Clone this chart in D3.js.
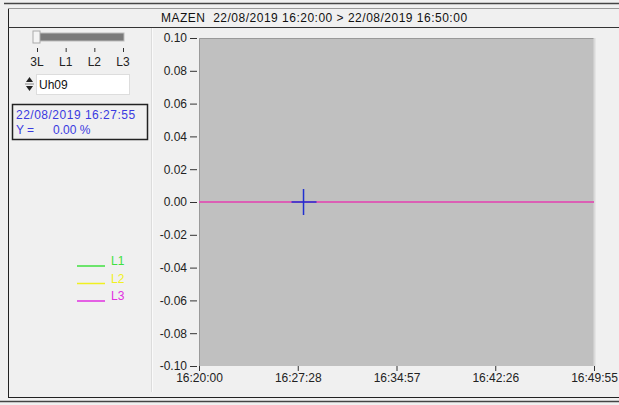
<!DOCTYPE html>
<html>
<head>
<meta charset="utf-8">
<script src="https://cdn.jsdelivr.net/npm/d3@7"></script>
<style>
body { margin: 0; background: #f0f0f0; }
svg { display: block; font-family: 'Liberation Sans', Arial, sans-serif; }
</style>
</head>
<body>
<script>
width = 619
height = 405

// data
var titleText = 'MAZEN  22/08/2019 16:20:00 > 22/08/2019 16:50:00'
var startTime = '2019-08-22T16:20:00'
var endTime = '2019-08-22T16:49:55'
var xTickTimes = ['2019-08-22T16:20:00', '2019-08-22T16:27:28.75', '2019-08-22T16:34:57.5', '2019-08-22T16:42:26.25', '2019-08-22T16:49:55']
var xTickLabels = ['16:20:00', '16:27:28', '16:34:57', '16:42:26', '16:49:55']
var yTicks = [-0.10, -0.08, -0.06, -0.04, -0.02, 0.00, 0.02, 0.04, 0.06, 0.08, 0.10]
var seriesNames = ['L1', 'L2', 'L3']
var seriesColors = ['#40e040', '#f0f020', '#e030e0']
var seriesTimes = ['2019-08-22T16:20:00', '2019-08-22T16:49:55']
var valuesL1 = [0, 0]
var valuesL2 = [0, 0]
var valuesL3 = [0, 0]
var sliderLabels = ['3L', 'L1', 'L2', 'L3']
var cursorTime = '2019-08-22T16:27:55'
var cursorValue = 0
var channelName = 'Uh09'

var parse = d3.isoParse

svg = d3.select('body')
    .append('svg')
    .attr('width', width)
    .attr('height', height)

// frame lines
svg.append('line').attr('x1', 4).attr('x2', width).attr('y1', 3.5).attr('y2', 3.5)
    .style('stroke', '#444').style('stroke-width', 1.5)
svg.append('line').attr('x1', 8.5).attr('x2', 8.5).attr('y1', 8).attr('y2', 397)
    .style('stroke', '#222')
svg.append('line').attr('x1', 8).attr('x2', width).attr('y1', 8.5).attr('y2', 8.5)
    .style('stroke', '#999')
svg.append('line').attr('x1', 8).attr('x2', width).attr('y1', 27.5).attr('y2', 27.5)
    .style('stroke', '#333')
svg.append('line').attr('x1', 8).attr('x2', width).attr('y1', 397.5).attr('y2', 397.5)
    .style('stroke', '#222')
svg.append('line').attr('x1', 0).attr('x2', width).attr('y1', 401.5).attr('y2', 401.5)
    .style('stroke', '#444').style('stroke-width', 1.5)
svg.append('line').attr('x1', 152.5).attr('x2', 152.5).attr('y1', 28).attr('y2', 392)
    .style('stroke', '#fafafa')
svg.append('line').attr('x1', 151.5).attr('x2', 151.5).attr('y1', 28).attr('y2', 392)
    .style('stroke', '#dcdcdc')

// title
svg.append('text')
    .text(titleText)
    .attr('x', 161)
    .attr('y', 22)
    .style('font-size', '12px')
    .style('letter-spacing', '0.5px')
    .style('fill', '#111')
    .style('white-space', 'pre')

// scales
var xScale = d3.scaleTime()
    .domain([parse(startTime), parse(endTime)])
    .range([199, 594])

var yScale = d3.scaleLinear()
    .domain([-0.10, 0.10])
    .range([366, 38])

// plot area
svg.append('rect')
    .attr('x', xScale.range()[0])
    .attr('y', yScale.range()[1])
    .attr('width', xScale.range()[1] - xScale.range()[0])
    .attr('height', yScale.range()[0] - yScale.range()[1])
    .style('fill', '#c0c0c0')
svg.append('path')
    .attr('d', 'M' + (xScale.range()[0] + 0.5) + ',' + yScale.range()[0] + 'V' + (yScale.range()[1] + 0.5) + 'H' + xScale.range()[1])
    .style('fill', 'none')
    .style('stroke', '#9a9a9a')
svg.append('line')
    .attr('x1', xScale.range()[1] + 0.5).attr('x2', xScale.range()[1] + 0.5)
    .attr('y1', yScale.range()[1]).attr('y2', yScale.range()[0])
    .style('stroke', '#dadada').style('stroke-width', 2)

// y axis
var yAxis = svg.append('g')
    .attr('transform', 'translate(197,0)')
    .call(d3.axisLeft(yScale).tickValues(yTicks).tickFormat(d3.format('.2f')).tickSize(7).tickPadding(3))
yAxis.select('.domain').remove()
yAxis.selectAll('line').style('stroke', '#333')
yAxis.selectAll('text').style('font-size', '12px').style('fill', '#222')
    .style('font-family', "'Liberation Sans', Arial, sans-serif")
    .text(d => d3.format('.2f')(d).replace('−', '-'))

// x axis
var xAxis = svg.append('g')
    .attr('transform', 'translate(0,' + yScale.range()[0] + ')')
    .call(d3.axisBottom(xScale).tickValues(xTickTimes.map(parse)).tickFormat((d, i) => xTickLabels[i]).tickSize(5).tickPadding(2))
xAxis.select('.domain').remove()
xAxis.selectAll('line').style('stroke', '#333')
xAxis.selectAll('text').style('font-size', '12px').style('fill', '#222')
    .style('font-family', "'Liberation Sans', Arial, sans-serif")

// series
var allValues = [valuesL1, valuesL2, valuesL3]
var line = d3.line()
    .x((d, i) => xScale(parse(seriesTimes[i])))
    .y(d => yScale(d))
allValues.forEach(function(vals, k) {
    svg.append('path')
        .datum(vals)
        .attr('d', line)
        .style('fill', 'none')
        .style('stroke', seriesColors[k])
        .style('stroke-width', 1.5)
})

// cursor cross
var cx = xScale(parse(cursorTime))
var cy = yScale(cursorValue)
svg.append('line').attr('x1', cx - 12).attr('x2', cx + 13).attr('y1', cy).attr('y2', cy)
    .style('stroke', '#2030d0').style('stroke-width', 1.5)
svg.append('line').attr('x1', cx).attr('x2', cx).attr('y1', cy - 13).attr('y2', cy + 13)
    .style('stroke', '#2030d0').style('stroke-width', 1.5)

// slider
var sliderScale = d3.scalePoint()
    .domain(sliderLabels)
    .range([37, 123])
svg.append('rect')
    .attr('x', 37).attr('y', 33).attr('width', 87).attr('height', 8)
    .style('fill', '#7a7a7a').style('stroke', '#bbb')
svg.append('rect')
    .attr('x', 33).attr('y', 31).attr('width', 7).attr('height', 12)
    .style('fill', '#f4f4f4').style('stroke', '#aaa')
sliderLabels.forEach(function(s) {
    svg.append('line')
        .attr('x1', sliderScale(s) + 0.5).attr('x2', sliderScale(s) + 0.5)
        .attr('y1', 48).attr('y2', 52)
        .style('stroke', '#333')
    svg.append('text')
        .text(s)
        .attr('x', sliderScale(s))
        .attr('y', 66)
        .attr('text-anchor', 'middle')
        .style('font-size', '12px')
        .style('fill', '#222')
})

// spin box
svg.append('rect')
    .attr('x', 36.5).attr('y', 74.5).attr('width', 93).attr('height', 20)
    .style('fill', '#fff').style('stroke', '#ddd')
svg.append('path').attr('d', 'M26,82 L29.5,77 L33,82 Z').style('fill', '#222')
svg.append('path').attr('d', 'M26,86 L29.5,91 L33,86 Z').style('fill', '#222')
svg.append('line').attr('x1', 25).attr('x2', 34).attr('y1', 84).attr('y2', 84).style('stroke', '#888')
svg.append('text')
    .text(channelName)
    .attr('x', 39).attr('y', 89)
    .style('font-size', '12px').style('fill', '#111')

// info box
svg.append('rect')
    .attr('x', 12.5).attr('y', 104.5).attr('width', 135).attr('height', 35)
    .style('fill', 'none').style('stroke', '#222').style('stroke-width', 1.5)
svg.append('text')
    .text(d3.timeFormat('%d/%m/%Y %H:%M:%S')(parse(cursorTime)))
    .attr('x', 16).attr('y', 119)
    .style('font-size', '12px').style('letter-spacing', '0.5px').style('fill', '#3a3ae0')
svg.append('text')
    .text('Y =')
    .attr('x', 16).attr('y', 134)
    .style('font-size', '12px').style('fill', '#3a3ae0')
svg.append('text')
    .text(d3.format('.2f')(cursorValue) + ' %')
    .attr('x', 53).attr('y', 134)
    .style('font-size', '12px').style('fill', '#3a3ae0')

// legend
legend = svg.append('g')
    .attr('transform', 'translate(77,266)')
seriesNames.forEach(function(n, i) {
    legend.append('line')
        .attr('x1', 0).attr('x2', 28)
        .attr('y1', i * 17.5).attr('y2', i * 17.5)
        .style('stroke', seriesColors[i]).style('stroke-width', 1.5)
    legend.append('text')
        .text(n)
        .attr('x', 34).attr('y', i * 17.5 - 1)
        .style('font-size', '12px')
        .style('fill', seriesColors[i])
})
</script>
</body>
</html>
